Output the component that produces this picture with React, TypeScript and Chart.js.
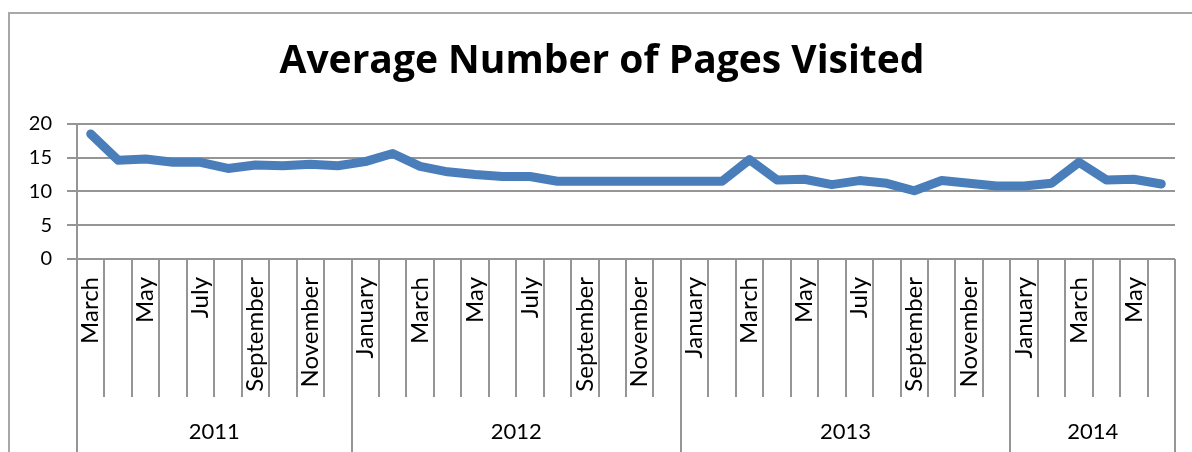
import React, { useEffect, useRef } from "react";
import { Chart, registerables } from "chart.js";

Chart.register(...registerables);

const TITLE = "Average Number of Pages Visited";

const monthLabels = [
  "March", "April", "May", "June", "July", "August", "September", "October", "November", "December",
  "January", "February", "March", "April", "May", "June", "July", "August", "September", "October", "November", "December",
  "January", "February", "March", "April", "May", "June", "July", "August", "September", "October", "November", "December",
  "January", "February", "March", "April", "May", "June",
];

const yearLabels = ["2011", "2012", "2013", "2014"];
const yearMonthCounts = [10, 12, 12, 6];

const pagesVisited = [
  18.5, 14.6, 14.8, 14.3, 14.3, 13.4, 13.9, 13.8, 14.0, 13.8,
  14.4, 15.6, 13.7, 12.9, 12.5, 12.2, 12.2, 11.5, 11.5, 11.5, 11.5, 11.5,
  11.5, 11.5, 14.7, 11.7, 11.8, 11.0, 11.6, 11.2, 10.1, 11.6, 11.2, 10.8,
  10.8, 11.2, 14.3, 11.7, 11.8, 11.1,
];

const yTicks = [0, 5, 10, 15, 20];

const FONT = "Lato, 'Open Sans', sans-serif";
const TITLE_FONT = "'Open Sans', Lato, sans-serif";
const GRID = "#959595";

const framePlugin = {
  id: "frame",
  beforeDraw(chart: any) {
    const ctx = chart.ctx;
    ctx.save();
    ctx.fillStyle = "#ffffff";
    ctx.fillRect(0, 0, chart.width, chart.height);
    ctx.strokeStyle = "#a8a8a8";
    ctx.lineWidth = 2;
    ctx.strokeRect(9, 13, chart.width + 50, chart.height + 50);
    ctx.restore();
  },
};

const groupAxisPlugin = {
  id: "groupAxis",
  afterDraw(chart: any) {
    const ctx = chart.ctx;
    const xs = chart.scales.x;
    const area = chart.chartArea;
    const n = monthLabels.length;
    const c0 = xs.getPixelForValue(0);
    const c1 = xs.getPixelForValue(1);
    const w = c1 - c0;
    const boundary = (i: number) => c0 - w / 2 + i * w;
    const yearStarts: number[] = [0];
    yearMonthCounts.forEach((c, k) => yearStarts.push(yearStarts[k] + c));
    ctx.save();
    ctx.strokeStyle = GRID;
    ctx.lineWidth = 2;
    for (let i = 0; i <= n; i++) {
      const isYear = yearStarts.includes(i);
      const x = Math.round(boundary(i));
      ctx.beginPath();
      ctx.moveTo(x, area.bottom);
      ctx.lineTo(x, isYear ? chart.height : 397);
      ctx.stroke();
    }
    ctx.fillStyle = "#000";
    ctx.font = `22px ${FONT}`;
    ctx.textAlign = "center";
    ctx.textBaseline = "middle";
    yearLabels.forEach((lab, k) => {
      const xa = boundary(yearStarts[k]);
      const xb = boundary(yearStarts[k + 1]);
      ctx.fillText(lab, (xa + xb) / 2, 432);
    });
    ctx.restore();
  },
};

export default function App() {
  const ref = useRef<HTMLCanvasElement | null>(null);
  useEffect(() => {
    if (!ref.current) return;
    const chart = new Chart(ref.current, {
      type: "line",
      data: {
        labels: monthLabels,
        datasets: [
          {
            label: "Average Number of Pages Visited",
            data: pagesVisited,
            borderColor: "#4a7ebb",
            backgroundColor: "#4a7ebb",
            borderWidth: 9,
            borderCapStyle: "round",
            borderJoinStyle: "round",
            pointRadius: 0,
            tension: 0,
          },
        ],
      },
      options: {
        animation: false,
        responsive: true,
        maintainAspectRatio: false,
        layout: { padding: { left: 29, right: 17, top: 0, bottom: 0 } },
        plugins: {
          legend: { display: false },
          tooltip: { enabled: false },
          title: {
            display: true,
            text: TITLE,
            color: "#000",
            font: { family: TITLE_FONT, size: 39, weight: "bold", lineHeight: 1.2 },
            padding: { top: 38, bottom: 39 },
          },
        },
        scales: {
          x: {
            type: "category",
            offset: true,
            grid: { display: false, drawTicks: false },
            border: { display: false },
            ticks: {
              autoSkip: false,
              maxRotation: 90,
              minRotation: 90,
              padding: 18,
              color: "#000",
              font: { family: FONT, size: 24 },
              callback: (_v: any, i: number) => (i % 2 === 0 ? monthLabels[i] : ""),
            },
            afterFit: (s: any) => {
              s.height = 193;
              s.paddingLeft = 0;
              s.paddingRight = 0;
            },
          },
          y: {
            min: 0,
            max: 20,
            afterBuildTicks: (s: any) => {
              s.ticks = yTicks.map((v) => ({ value: v }));
            },
            grid: { color: GRID, lineWidth: 2, drawTicks: true, tickLength: 10 },
            border: { display: true, color: GRID, width: 2 },
            ticks: {
              padding: 15,
              color: "#000",
              font: { family: FONT, size: 20 },
            },
            afterFit: (s: any) => {
              s.width = 48;
            },
          },
        },
      },
      plugins: [framePlugin, groupAxisPlugin],
    });
    return () => chart.destroy();
  }, []);
  return (
    <div style={{ position: "fixed", left: 0, top: 0, width: 1192, height: 452, background: "#fff" }}>
      <canvas ref={ref} />
    </div>
  );
}
